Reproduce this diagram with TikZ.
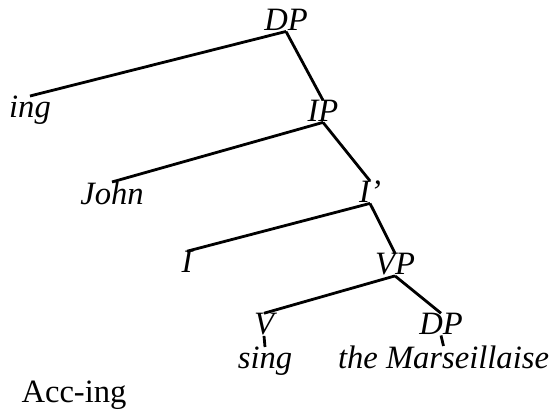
\documentclass[tikz,border=0pt]{standalone}
\usepackage{fontspec}
\setmainfont{Liberation Serif}
\usepackage{tikz}

\begin{document}
\begin{tikzpicture}[
    x=0.5pt, y=-0.5pt,
    font=\fontsize{16.3}{19}\selectfont,
    cat/.style={inner sep=0pt, anchor=base, font=\fontsize{16.3}{19}\selectfont\itshape},
    word/.style={cat},
    branch/.style={line width=1.4pt}
]
\useasboundingbox (0,0) rectangle (552,416);

% Root
\node[cat] (dp) at (286,31) {DP};

% Level 1
\node[word] (ing) at (30,118) {ing};
\node[cat] (ip) at (323,122) {IP};

% Level 2
\node[word] (john) at (112,205) {John};
\node[cat] (ibar) at (370,203) {I'};

% Level 3
\node[cat] (infl) at (187,273) {I};
\node[cat] (vp) at (395,275) {VP};

% Level 4
\node[cat] (verb) at (264,335) {V};
\node[cat] (obj) at (441,335) {DP};

% Words
\node[word] (sing) at (265,369) {sing};
\node[word] (marse) at (443.5,369) {the Marseillaise};

% Caption
\node[inner sep=0pt, anchor=base] (caption) at (74,403) {Acc-ing};

% Branches
\draw[branch] (dp.south) -- (ing.north);
\draw[branch] (dp.south) -- (ip.north);

\draw[branch] (ip.south) -- (john.north);
\draw[branch] (ip.south) -- (ibar.north);

\draw[branch] (ibar.south) -- (infl.north);
\draw[branch] (ibar.south) -- (vp.north);

\draw[branch] (vp.south) -- (verb.north);
\draw[branch] (vp.south) -- (obj.north);

\draw[branch] (verb.south) -- (sing.north);
\draw[branch] (obj.south) -- (marse.north);

\end{tikzpicture}
\end{document}
